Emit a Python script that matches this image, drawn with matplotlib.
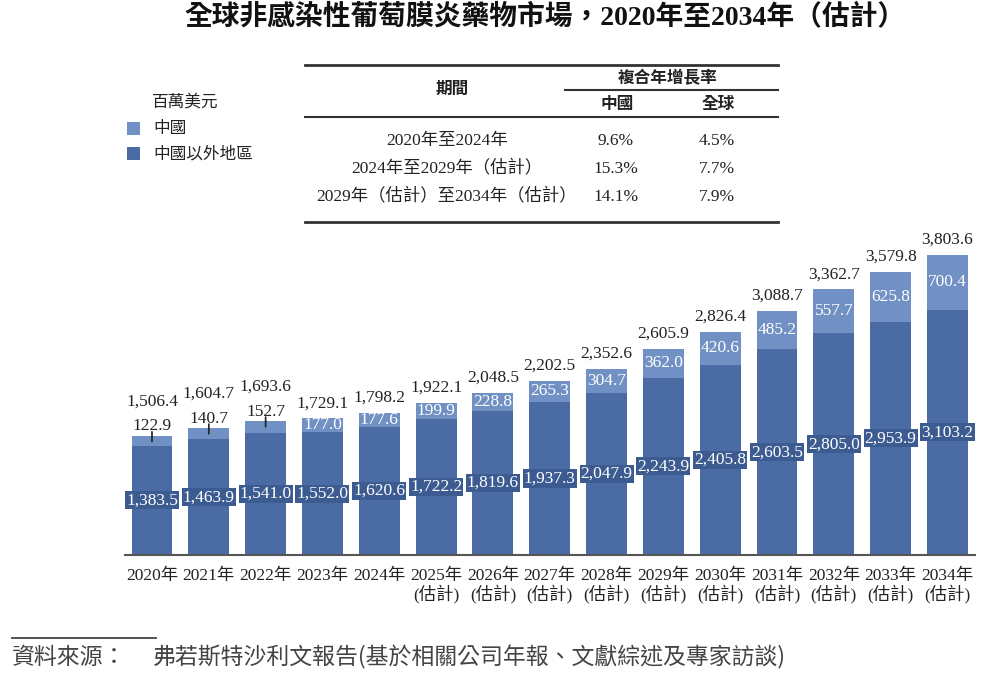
import matplotlib
matplotlib.use("Agg")
import matplotlib.pyplot as plt
from matplotlib.patches import Rectangle
from matplotlib.lines import Line2D

# fonts: serif latin digits, CJK falls back to Noto Sans CJK TC
SERIF = ['Liberation Serif', 'Noto Sans CJK TC']
SANS = ['Noto Sans CJK TC', 'DejaVu Sans']
plt.rcParams['font.family'] = SERIF

years = ['2020年', '2021年', '2022年', '2023年', '2024年',
         '2025年\n(估計)', '2026年\n(估計)', '2027年\n(估計)', '2028年\n(估計)',
         '2029年\n(估計)', '2030年\n(估計)', '2031年\n(估計)', '2032年\n(估計)',
         '2033年\n(估計)', '2034年\n(估計)']
outside_china = [1383.5, 1463.9, 1541.0, 1552.0, 1620.6, 1722.2, 1819.6, 1937.3,
                 2047.9, 2243.9, 2405.8, 2603.5, 2805.0, 2953.9, 3103.2]
china = [122.9, 140.7, 152.7, 177.0, 177.6, 199.9, 228.8, 265.3,
         304.7, 362.0, 420.6, 485.2, 557.7, 625.8, 700.4]
totals = [1506.4, 1604.7, 1693.6, 1729.1, 1798.2, 1922.1, 2048.5, 2202.5,
          2352.6, 2605.9, 2826.4, 3088.7, 3362.7, 3579.8, 3803.6]

# CAGR table
periods = ['2020年至2024年', '2024年至2029年（估計）', '2029年（估計）至2034年（估計）']
cagr_china = ['9.6%', '15.3%', '14.1%']
cagr_global = ['4.5%', '7.7%', '7.9%']

c_china = '#7190c3'
c_out = '#4b6ba4'
c_box = '#3c5b90'
c_txt = '#222222'

W, H = 1000, 677


def fx(x):
    return x / W


def fy(y):
    return 1 - y / H


fig = plt.figure(figsize=(10, 6.77), dpi=100)
ax = fig.add_axes([fx(125), fy(555), fx(850), 316 / H])

x = list(range(len(years)))
ax.bar(x, outside_china, width=0.72, color=c_out, zorder=2)
ax.bar(x, china, width=0.72, bottom=outside_china, color=c_china, zorder=2)
ax.set_xlim(-0.475, 14.484)
ax.set_ylim(0, 4000)

for s in ['top', 'right', 'left']:
    ax.spines[s].set_visible(False)
ax.spines['bottom'].set_color('#555555')
ax.spines['bottom'].set_linewidth(1.5)
ax.set_yticks([])
ax.set_xticks(x)
ax.set_xticklabels(years, fontsize=12.5, color=c_txt, linespacing=1.1)
ax.tick_params(axis='x', length=0, pad=9.5)

for i in x:
    top = totals[i]
    # outside-China value in dark box
    ax.text(i, outside_china[i] / 2, f'{outside_china[i]:,.1f}', ha='center', va='center',
            fontsize=12.5, color='white', zorder=4,
            bbox=dict(boxstyle='square,pad=0.06', fc=c_box, ec='none'))
    if china[i] < 160:
        # small segment: label above with a short tick
        ax.annotate('', xy=(i, outside_china[i] + china[i]), xytext=(0, 3),
                    textcoords='offset points',
                    arrowprops=dict(arrowstyle='-', color='#222222', lw=1.2, shrinkA=0, shrinkB=0))
        ax.annotate('', xy=(i, outside_china[i] + china[i]), xytext=(0, -4),
                    textcoords='offset points',
                    arrowprops=dict(arrowstyle='-', color='#222222', lw=1.2, shrinkA=0, shrinkB=0))
        ax.annotate(f'{china[i]:,.1f}', xy=(i, top), xytext=(0, 4), textcoords='offset points',
                    ha='center', va='baseline', fontsize=12.5, color=c_txt)
        ax.annotate(f'{top:,.1f}', xy=(i, top), xytext=(0, 22), textcoords='offset points',
                    ha='center', va='baseline', fontsize=12.5, color=c_txt)
    else:
        ax.text(i, outside_china[i] + china[i] / 2, f'{china[i]:,.1f}', ha='center', va='center',
                fontsize=12.5, color='white', zorder=4)
        ax.annotate(f'{top:,.1f}', xy=(i, top), xytext=(0, 8), textcoords='offset points',
                    ha='center', va='baseline', fontsize=12.5, color=c_txt)

# title
fig.text(0.545, fy(18), '全球非感染性葡萄膜炎藥物市場，2020年至2034年（估計）', ha='center', va='center',
         fontsize=20, fontweight='bold', color='#111111', family=SERIF)

# legend
fig.text(fx(152), fy(103), '百萬美元', ha='left', va='center', fontsize=12, color=c_txt, family=SANS)
for yy, col, lab in [(122, c_china, '中國'), (147, c_out, '中國以外地區')]:
    fig.add_artist(Rectangle((fx(127), fy(yy + 13)), 13 / W, 13 / H, transform=fig.transFigure,
                             fc=col, ec='none'))
    fig.text(fx(153), fy(yy + 6.5), lab, ha='left', va='center', fontsize=12, color=c_txt, family=SANS)

# CAGR table
rule = '#333333'
for yy, x0, lw in [(64.5, 305, 2.0), (90, 565, 1.5), (117, 305, 1.5), (222, 305, 2.0)]:
    fig.add_artist(Line2D([fx(x0), fx(778)], [fy(yy), fy(yy)], transform=fig.transFigure,
                          color=rule, lw=lw))
fig.text(fx(452), fy(89), '期間', ha='center', va='center', fontsize=12,
         fontweight='bold', color=c_txt, family=SANS)
fig.text(fx(668), fy(78), '複合年增長率', ha='center', va='center', fontsize=12,
         fontweight='bold', color=c_txt, family=SANS)
fig.text(fx(617), fy(104), '中國', ha='center', va='center', fontsize=12,
         fontweight='bold', color=c_txt, family=SANS)
fig.text(fx(718), fy(104), '全球', ha='center', va='center', fontsize=12,
         fontweight='bold', color=c_txt, family=SANS)
for k, yy in enumerate([141, 169, 197]):
    fig.text(fx(447), fy(yy), periods[k], ha='center', va='center', fontsize=12.5, color=c_txt)
    fig.text(fx(616), fy(yy), cagr_china[k], ha='center', va='center', fontsize=12.5, color=c_txt)
    fig.text(fx(717), fy(yy), cagr_global[k], ha='center', va='center', fontsize=12.5, color=c_txt)

# source
fig.add_artist(Line2D([fx(12), fx(156)], [fy(637.5), fy(637.5)], transform=fig.transFigure,
                      color='#444444', lw=1.3))
fig.text(fx(12), fy(657), '資料來源：', ha='left', va='center', fontsize=16.5,
         style='italic', color='#444444', family=SANS)
fig.text(fx(153), fy(657), '弗若斯特沙利文報告(基於相關公司年報、文獻綜述及專家訪談)', ha='left',
         va='center', fontsize=16.5, style='italic', color='#444444', family=SANS)

fig.savefig('out.png', dpi=100)
